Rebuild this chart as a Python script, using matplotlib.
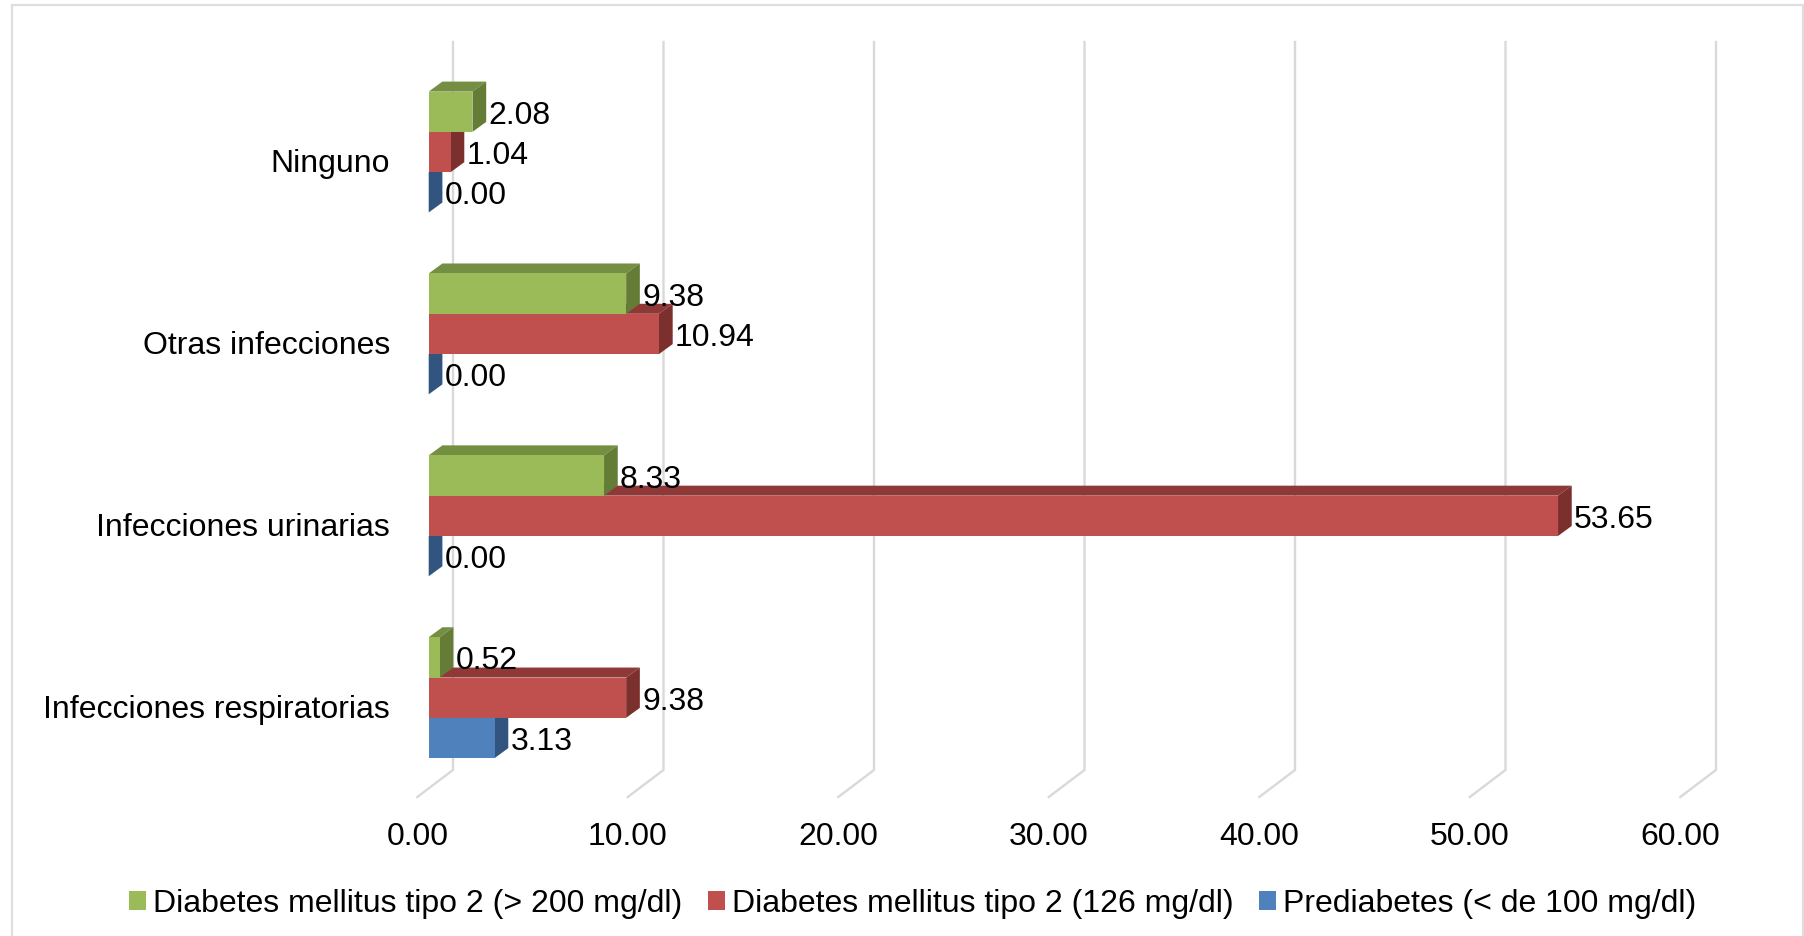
import matplotlib
matplotlib.use("Agg")
import matplotlib.pyplot as plt
from matplotlib.patches import Patch, Polygon, Rectangle
import numpy as np

plt.rcParams['font.family'] = ['Liberation Sans', 'DejaVu Sans']

categories = ["Infecciones respiratorias", "Infecciones urinarias", "Otras infecciones", "Ninguno"]
prediabetes = [3.13, 0.00, 0.00, 0.00]
dm_126 = [9.38, 53.65, 10.94, 1.04]
dm_200 = [0.52, 8.33, 9.38, 2.08]
series_names = ["Diabetes mellitus tipo 2 (> 200 mg/dl)",
                "Diabetes mellitus tipo 2 (126 mg/dl)",
                "Prediabetes (< de 100 mg/dl)"]
x_ticks = [0, 10, 20, 30, 40, 50, 60]

# front, top, side colours
green = ("#9BBB59", "#748E42", "#657C37")
red = ("#C0504D", "#8E3937", "#7C302E")
blue = ("#4F81BD", "#3B6190", "#325580")

W, H = 1804, 937
FONT = 23
GRID = "#D9D9D9"

# depth of the bars and of the floor, in data units
bar_dx = 13.7 / 21.05
bar_dy = 10 / 181.9
wall_dx = 24.3 / 21.05
floor_dx = -11.4 / 21.05
wall_y = -(770 - 697.7) / 181.9

# axes area in pixels, starts at the front edge of the floor
left, right = 417.3, 1691.7
top, bottom = 43, 798
y_range = (-0.546, 3.605)

fig = plt.figure(figsize=(W / 100, H / 100), dpi=100, facecolor="white")
ax = fig.add_axes([left / W, 1 - bottom / H, (right - left) / W, (bottom - top) / H])
ax.patch.set_visible(False)
for s in ax.spines.values():
    s.set_visible(False)

# outer frame, runs off the bottom edge
fig.add_artist(Rectangle((12 / W, -0.05), (1803 - 12) / W, 1.05 - 6 / H, transform=fig.transFigure,
                         fill=False, edgecolor="#DEDEDE", linewidth=1.6))

for t in x_ticks:
    ax.plot([t + floor_dx, t + wall_dx, t + wall_dx], [y_range[0], wall_y, y_range[1]],
            color=GRID, lw=1.7, zorder=1, clip_on=False, solid_joinstyle="miter")

bar_h = 40.3 / 181.9
y = np.arange(len(categories))


def draw_bars(values, ypos, colours, z):
    front, top_c, side_c = colours
    for v, yc in zip(values, ypos):
        y0, y1 = yc - bar_h / 2, yc + bar_h / 2
        ax.add_patch(Polygon([(0, y1), (bar_dx, y1 + bar_dy), (v + bar_dx, y1 + bar_dy), (v, y1)],
                             facecolor=top_c, edgecolor="none", zorder=z, clip_on=False))
        ax.add_patch(Polygon([(v, y0), (v + bar_dx, y0 + bar_dy), (v + bar_dx, y1 + bar_dy), (v, y1)],
                             facecolor=side_c, edgecolor="none", zorder=z, clip_on=False))
    ax.barh(ypos, values, height=bar_h, color=front, zorder=z, clip_on=False)
    for v, yc in zip(values, ypos):
        ax.annotate("%.2f" % v, (v, yc), xytext=(16 * 0.72, -3 * 0.72), textcoords="offset points",
                    ha="left", va="center", fontsize=FONT, color="black", zorder=10)


# lower series first, the one above it covers its top face
draw_bars(prediabetes, y - bar_h, blue, 3)
draw_bars(dm_126, y, red, 4)
draw_bars(dm_200, y + bar_h, green, 5)

ax.set_xticks([t + floor_dx for t in x_ticks])
ax.set_xticklabels(["%.2f" % t for t in x_ticks], fontsize=FONT)
ax.set_yticks(y - 7.5 / 181.9)
ax.set_yticklabels(categories, fontsize=FONT)
ax.tick_params(axis="x", length=0, pad=17.5)
ax.tick_params(axis="y", length=0, pad=19.7)
# set_xticks widens the view, so the limits come last
ax.set_xlim(floor_dx, 60)
ax.set_ylim(*y_range)

handles = [Patch(facecolor=c[0], edgecolor="none") for c in (green, red, blue)]
fig.legend(handles, series_names, ncol=3, loc="center", bbox_to_anchor=(912.5 / W, 1 - 904.5 / H),
           frameon=False, fontsize=FONT, handlelength=0.53, handleheight=0.53,
           handletextpad=0.22, columnspacing=0.8, borderpad=0, borderaxespad=0)

fig.savefig("out.png", dpi=100)
